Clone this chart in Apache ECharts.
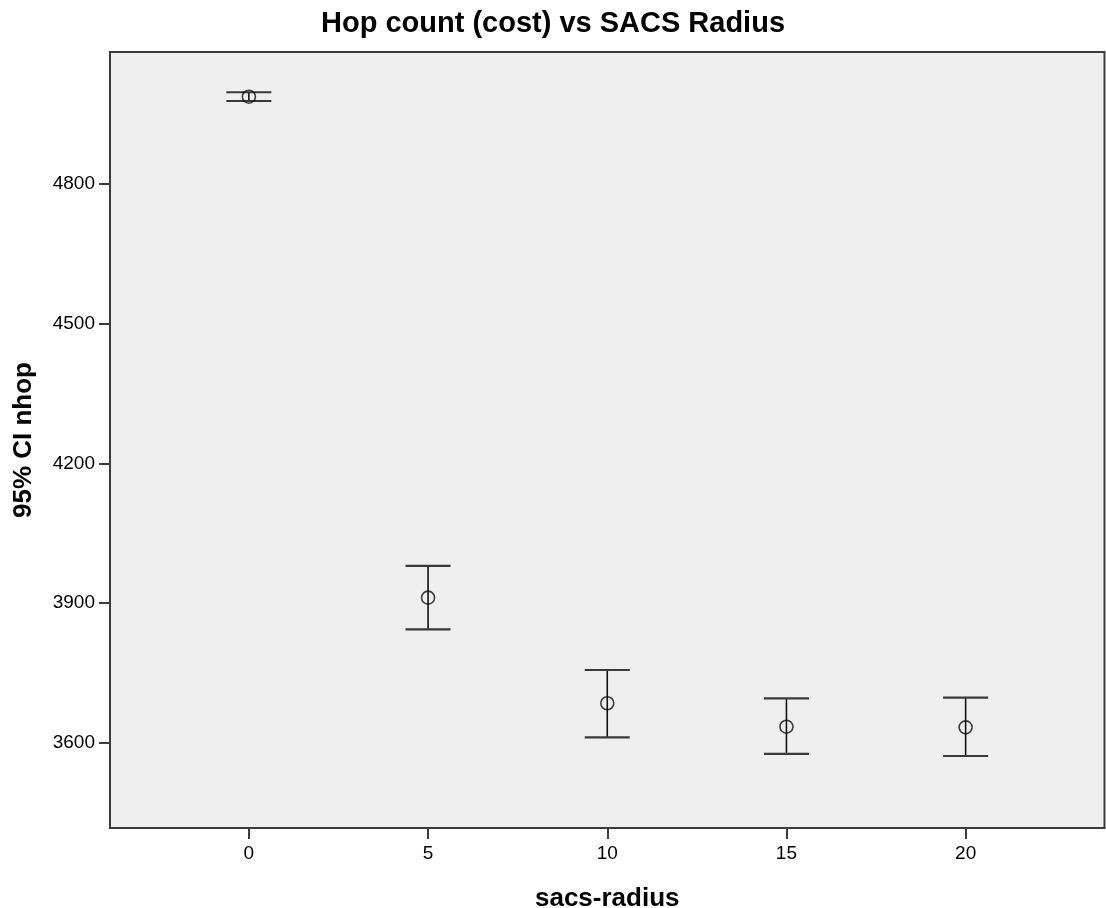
<!DOCTYPE html>
<html>
<head>
<meta charset="utf-8">
<script src="https://cdn.jsdelivr.net/npm/echarts@6/dist/echarts.min.js"></script>
<style>
html,body{margin:0;padding:0;background:#fff;}
#chart{width:1106px;height:908px;}
</style>
</head>
<body>
<div id="chart"></div>
<script>
// ---- data ----
var radius  = [0, 5, 10, 15, 20];
var meanHop = [4987.5, 3911.5, 3684.7, 3634.4, 3633.0];
var ciLower = [4978.3, 3843.6, 3611.6, 3575.8, 3571.4];
var ciUpper = [4997.0, 3979.6, 3756.2, 3695.4, 3696.7];
var xTicks  = [0, 5, 10, 15, 20];
var yTicks  = [3600, 3900, 4200, 4500, 4800];

var FONT = '"Liberation Sans", Arial, sans-serif';
var chart = echarts.init(document.getElementById('chart'), null, {renderer: 'canvas'});

var errData = radius.map(function (r, i) { return [r, ciLower[i], ciUpper[i]]; });
var ptData  = radius.map(function (r, i) { return [r, meanHop[i]]; });

var option = {
  backgroundColor: '#ffffff',
  animation: false,
  title: {
    text: 'Hop count (cost) vs SACS Radius',
    left: 'center',
    top: 4,
    textStyle: {fontFamily: FONT, fontSize: 29, fontWeight: 'bold', color: '#000'}
  },
  grid: {
    left: 110, right: 1.5, top: 52, bottom: 80,
    outerBoundsMode: 'none',
    containLabel: false,
    show: true, backgroundColor: '#efefef', borderColor: '#3c3c3c', borderWidth: 2
  },
  xAxis: {
    type: 'value',
    min: -3.875, max: 23.875,
    name: 'sacs-radius',
    nameLocation: 'middle',
    nameGap: 58,
    nameTextStyle: {fontFamily: FONT, fontSize: 26, fontWeight: 'bold', color: '#000'},
    axisLine: {show: true, onZero: false, lineStyle: {color: '#3c3c3c', width: 2}},
    axisTick: {show: true, inside: false, length: 11, customValues: xTicks, lineStyle: {color: '#3c3c3c', width: 2}},
    axisLabel: {customValues: xTicks, margin: 16, fontFamily: FONT, fontSize: 19, color: '#000',
      formatter: function (v) { return String(v); }},
    splitLine: {show: false}
  },
  yAxis: {
    type: 'value',
    min: 3416.8, max: 5083.5,
    name: '95% CI nhop',
    nameLocation: 'middle',
    nameGap: 73,
    nameTextStyle: {fontFamily: FONT, fontSize: 26, fontWeight: 'bold', color: '#000'},
    axisLine: {show: true, onZero: false, lineStyle: {color: '#3c3c3c', width: 2}},
    axisTick: {show: true, inside: false, length: 11, customValues: yTicks, lineStyle: {color: '#3c3c3c', width: 2}},
    axisLabel: {customValues: yTicks, margin: 15, fontFamily: FONT, fontSize: 19, color: '#000',
      formatter: function (v) { return String(v); }},
    splitLine: {show: false}
  },
  series: [
    {
      type: 'custom',
      data: errData,
      encode: {x: 0, y: [1, 2]},
      renderItem: function (params, api) {
        var x = api.value(0);
        var lo = api.coord([x, api.value(1)]);
        var hi = api.coord([x, api.value(2)]);
        var half = 22.5;
        return {
          type: 'group',
          children: [
            {type: 'line', shape: {x1: lo[0], y1: lo[1], x2: hi[0], y2: hi[1]}, style: {stroke: '#111', lineWidth: 1.6}},
            {type: 'line', shape: {x1: hi[0] - half, y1: hi[1], x2: hi[0] + half, y2: hi[1]}, style: {stroke: '#3a3a3a', lineWidth: 2.2}},
            {type: 'line', shape: {x1: lo[0] - half, y1: lo[1], x2: lo[0] + half, y2: lo[1]}, style: {stroke: '#3a3a3a', lineWidth: 2.2}}
          ]
        };
      },
      z: 2
    },
    {
      type: 'scatter',
      data: ptData,
      symbol: 'circle',
      symbolSize: 13,
      itemStyle: {color: 'rgba(0,0,0,0)', borderColor: '#111', borderWidth: 1.6},
      z: 3
    }
  ]
};
chart.setOption(option);
</script>
</body>
</html>
